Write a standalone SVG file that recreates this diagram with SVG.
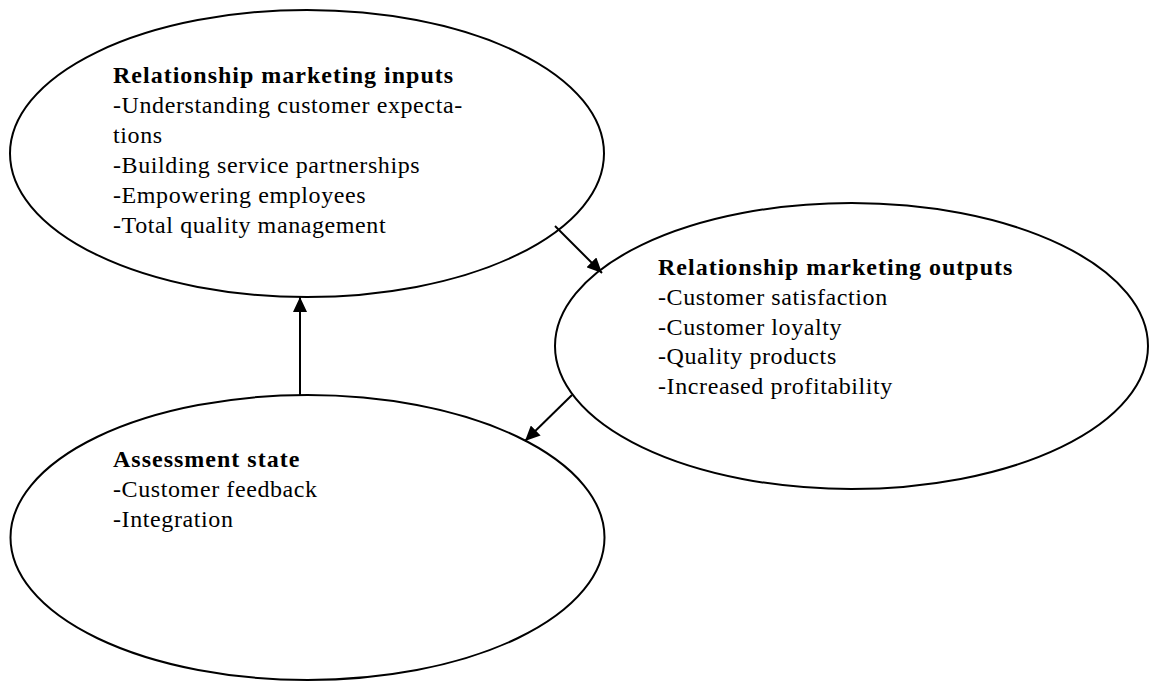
<svg xmlns="http://www.w3.org/2000/svg" width="1156" height="682" viewBox="0 0 1156 682">
<style>
.node{fill:#fff;stroke:#000;stroke-width:2}
.t{font-family:"Liberation Serif","Times New Roman",serif;font-size:24px;letter-spacing:0.6px;fill:#000}
.b{font-weight:bold;letter-spacing:1px}
.c{stroke:#000;stroke-width:2;fill:none;marker-end:url(#ah)}
</style>
<defs>
<marker id="ah" markerWidth="15" markerHeight="14" refX="15" refY="7" orient="auto" markerUnits="userSpaceOnUse">
<path d="M0,0 L15,7 L0,14 Z" fill="#000"/>
</marker>
</defs>
<g id="node-inputs">
<ellipse class="node" cx="307" cy="153.5" rx="297" ry="143.5"/>
<text class="t" x="113" y="83"><tspan class="b" x="113">Relationship marketing inputs</tspan><tspan x="113" dy="30">-Understanding customer expecta-</tspan><tspan x="113" dy="30">tions</tspan><tspan x="113" dy="30">-Building service partnerships</tspan><tspan x="113" dy="30">-Empowering employees</tspan><tspan x="113" dy="29.5">-Total quality management</tspan></text>
</g>
<g id="node-outputs">
<ellipse class="node" cx="851.5" cy="346" rx="296.5" ry="143"/>
<text class="t" x="658" y="275"><tspan class="b" x="658">Relationship marketing outputs</tspan><tspan x="658" dy="30">-Customer satisfaction</tspan><tspan x="658" dy="29.5">-Customer loyalty</tspan><tspan x="658" dy="29.5">-Quality products</tspan><tspan x="658" dy="29.5">-Increased profitability</tspan></text>
</g>
<g id="node-assessment">
<ellipse class="node" cx="307.5" cy="537.5" rx="297" ry="142.5"/>
<text class="t" x="113" y="467"><tspan class="b" x="113">Assessment state</tspan><tspan x="113" dy="30">-Customer feedback</tspan><tspan x="113" dy="30">-Integration</tspan></text>
</g>
<g id="connectors">
<line class="c" x1="300" y1="395" x2="300" y2="297"/>
<line class="c" x1="555" y1="226" x2="602" y2="273"/>
<line class="c" x1="572" y1="395" x2="525" y2="441"/>
</g>
</svg>
